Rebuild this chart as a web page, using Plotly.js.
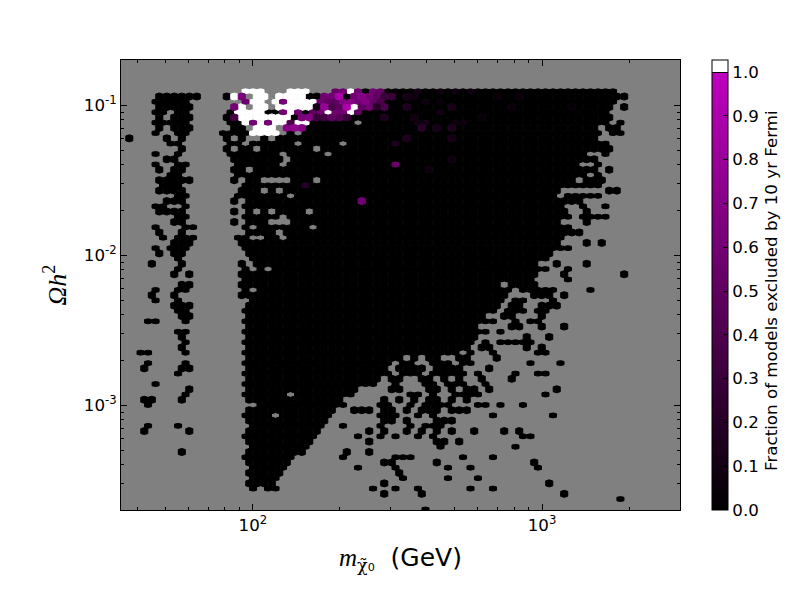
<!DOCTYPE html>
<html>
<head>
<meta charset="utf-8">
<script src="https://cdn.plot.ly/plotly-3.0.1.min.js"></script>
<style>body{margin:0;background:#fff}</style>
</head>
<body>
<div id="chart" style="width:800px;height:600px"></div>
<script>
// Fraction of models excluded per (mass, relic density) hexagonal bin.
// One string per bin row, top row first. Tokens are bin columns:
// "a-b" or "c" = bins at 0.0, "c=v" = bin with fraction v, "!c" = empty bin
var hexRows = [
"15=1 16=1 17=1 21=1 22=1 23=1 27-64 27=.55 28=.6 29=1 30=.6 32=.6 33=.5 38=.1 41=.08 43=.08 45=.08",
"4-9 13 14=1 15=.65 17=1 18=1 20=1 21=1 22=1 23=1 24 25-66 26=.6 27=.6 28=.9 30=.6 31=.7 32=.6 33=.5 34=.3 35=.3 37=.12 38=.08 49=.05 52=.05",
"3-7 15=.55 16=1 17=1 19=1 20=.6 21=1 22=1 23=1 24=1 25-64 25=.6 26=.5 27=.5 28=.7 29=.7 30=.6 31=.7 32=.5 33=.4 39=.08 41=.05",
"4-8 14=.6 15=1 17=1 18=1 20=1 21=1 22=1 23=1 24=1 25-64 25=.1 26=.8 27=.4 28=.5 29=.9 30=1 31=.5 32=.6 33=.2 34=.4 37=.15 43=.12 51=.05 59=.04 66",
"3 4 6 7 13 14=1 15=1 16=1 17=1 18 19 20=.6 21=1 22=.6 23 24=.5 25=.6 26=1 27-63 27=.6 28=.6 29=1 30=.5 41=.1",
"4 6 7 8 13 14=.35 15=1 16=1 17=1 18=1 19=1 20=1 21=1 22 23=.65 24=.7 25=.3 26-64 26=.35 27=.5 28=.45 29=.3 34=.15 38=.08 47=.05",
"3-7 13 14 15=1 16=.6 17=1 18=.6 19=1 20=1 21=.4 22=1 23=1 24-63 !30 38=.1 39=.1 43=.08 44=.08 65",
"4 6 7 8 14 15 17=1 18=1 19=1 21=.7 22=.75 23=.7 24-62 39=.2 41=.12 43=.15 64 65",
"3 6 7 12-15 16=1 17=1 18=1 19=1 21 23-62 64 65",
"0 5 7 13 15 18 20-62 37=.15 43=.12",
"5 6 13 14 16-21 23-63 !28 35=.15",
"7 13 15 16 18-64 !25",
"3 6 13-60 63 !20 !26",
"5 6 14-62 !21 43=.08",
"3 6 7 14-59 62 !20 35=.55",
"4 6 7 14-62 64 !16 40=.08",
"5 6 14-60 62",
"4-8 14 16 17 22-24 26-59 61 62 63",
"4-6 15-62 23=.2",
"4-7 15-17 19 21-57 64 65",
"6 7 14-56 58-62 !21",
"5 6 7 14 16-60 31=.6",
"3 4 7 15-57 60 63",
"4-7 14 16 18 20-23 25-58 61",
"6 7 15-58 !20 60-63",
"6 7 14 16-18 22-57 61",
"3 7 8 15 17-58 !24",
"4 7 16-19 21-60",
"4 6 7 8 14 15 18-57 !20",
"6 7 8 15-57 61 63",
"3 5 6 7 15-58",
"4 6 7 16-56",
"6 16-55",
"3 7 15 17-54 57 61",
"6 15 17 19-55 58",
"6 8 15-54 58 66",
"15-53 58",
"7 8 15-54 !50",
"3 6 7 15 17-50 52-56 61",
"3 6 15-50 54-56 58",
"3 6 16-49 51 52 56",
"6 7 8 16-49 51 52 55 56 57",
"6 7 15-48 50 51 52 54 55",
"7 8 16-47 50 51 55",
"2 3 7 15-48 51 53 54",
"16-46 51 52 55 58",
"6 7 15-47 49",
"7 16-46 53 56",
"7 15-45 47 49-53",
"7 16-45 47 48 53 55",
"1 2 7 15-43 45 48 54 55",
"16-36 38 40 41 44 45 49",
"2 7 15-34 36 37 40-42 44 45 53 57",
"2 7 8 16-34 36-39 41-44 48",
"6 15-34 36-38 40-44 46 51 54 55",
"16-33 35 36 39 40 42 44 47 51",
"3 15-32 35 39 40 42-44 47",
"8 16-30 35 36 40 41 43 45 46 48 57",
"7 15-29 !21 37 38 40 43-46 55",
"2 3 7 16-28 34 36 38 40 41 43 45",
"2 17-28 33 34 37 39-42 46 47 49 52",
"16-27 30-32 34 35 37 39-41 43-45",
"15-26 !19 33-35 38 40 48 56",
"16-26 34 35 37 41-43",
"2 6 16-25 28 33 37 39-41",
"2 8 16-25 32 34 37 39 41 43 46 50 52",
"15-24 30 33 35 38 40 52 53",
"16-24 32 41 42 44",
"16-23 41 51",
"7 16-23 29 32",
"15-21 28 35-37 44 48",
"16-21 34 35 41 54",
"16-20 30 35 42 45 54",
"16-20 36",
"16-19 36 42 46",
"16-19 34 56",
"16 18 19 32 35 38 45 48",
"34 39 58",
"65",
"",
"39"
];

var xTickVals = [100, 1000];
var xTickText = ['10<sup>2</sup>', '10<sup>3</sup>'];
var xMinorVals = [40, 50, 60, 70, 80, 90, 200, 300, 400, 500, 600, 700, 800, 900, 2000, 3000];
var yTickVals = [0.001, 0.01, 0.1];
var yTickText = ['10<sup>-3</sup>', '10<sup>-2</sup>', '10<sup>-1</sup>'];
var yMinorVals = [0.0002, 0.0003, 0.0004, 0.0005, 0.0006, 0.0007, 0.0008, 0.0009,
    0.002, 0.003, 0.004, 0.005, 0.006, 0.007, 0.008, 0.009,
    0.02, 0.03, 0.04, 0.05, 0.06, 0.07, 0.08, 0.09, 0.2];
var fracTicks = [0, 0.1, 0.2, 0.3, 0.4, 0.5, 0.6, 0.7, 0.8, 0.9, 1];

// hexbin lattice in log10 units
var logX0 = 1.5728, logXStep = 0.02593, logY0 = -0.9077, logYStep = 0.03485;
var halfW = 0.0122, halfTall = 0.0235, halfFlat = 0.0165;

function fracColor(v) {
    if (v >= 1) return 'rgb(255,255,255)';
    var c = Math.round(191 * v);
    return 'rgb(' + c + ',0,' + c + ')';
}

// turn one row string into {column: fraction}
function parseRow(str) {
    var bins = {};
    str.split(' ').forEach(function(tok) {
        if (!tok) return;
        if (tok[0] == '!') {
            delete bins[tok.slice(1)];
        } else if (tok.indexOf('=') > 0) {
            var p = tok.split('=');
            bins[p[0]] = parseFloat(p[1]);
        } else if (tok.indexOf('-') > 0) {
            var r = tok.split('-');
            for (var c = +r[0]; c <= +r[1]; c++) bins[c] = 0;
        } else {
            bins[tok] = 0;
        }
    });
    return bins;
}

// collect hexagon outlines per fraction, each hexagon closed and split by a null
var polys = {};
hexRows.forEach(function(str, k) {
    var bins = parseRow(str);
    var flat = k % 2 == 0;
    var h = flat ? halfFlat : halfTall;
    var ly = logY0 - k * logYStep;
    Object.keys(bins).forEach(function(c) {
        var v = bins[c];
        var lx = logX0 + c * logXStep + (flat ? logXStep / 2 : 0);
        if (!polys[v]) polys[v] = {x: [], y: []};
        var px = [lx + halfW, lx + halfW, lx, lx - halfW, lx - halfW, lx, lx + halfW];
        var py = [ly - 0.7 * h, ly + 0.7 * h, ly + h, ly + 0.7 * h, ly - 0.7 * h, ly - h, ly - 0.7 * h];
        for (var i = 0; i < 7; i++) {
            polys[v].x.push(Math.pow(10, px[i]));
            polys[v].y.push(Math.pow(10, py[i]));
        }
        polys[v].x.push(null);
        polys[v].y.push(null);
    });
});

var traces = [];
Object.keys(polys).forEach(function(v) {
    var col = fracColor(parseFloat(v));
    traces.push({
        x: polys[v].x, y: polys[v].y,
        type: 'scatter', mode: 'lines', fill: 'toself',
        fillcolor: col, line: {color: col, width: 1},
        hoverinfo: 'skip', showlegend: false
    });
});

// only here for the colorbar
traces.push({
    x: [100], y: [0.01], type: 'scatter', mode: 'markers',
    hoverinfo: 'skip', showlegend: false,
    marker: {
        size: 0, color: [0], cmin: 0, cmax: 1.0274, showscale: true,
        colorscale: [[0, 'rgb(0,0,0)'], [0.9711, 'rgb(191,0,191)'], [0.9712, 'rgb(0,0,0)'],
            [0.9733, 'rgb(0,0,0)'], [0.9734, 'rgb(255,255,255)'], [1, 'rgb(255,255,255)']],
        colorbar: {
            x: 1.0572, xanchor: 'left', xpad: 0, y: 0, yanchor: 'bottom', ypad: 0,
            len: 1, lenmode: 'fraction', thickness: 16, thicknessmode: 'pixels',
            outlinecolor: 'black', outlinewidth: 1, bordercolor: 'rgba(0,0,0,0)',
            tickvals: fracTicks, ticktext: fracTicks.map(function(t) { return t.toFixed(1); }),
            ticks: 'inside', ticklen: 5, tickcolor: 'black', tickwidth: 1,
            tickfont: {family: 'DejaVu Sans', size: 16.67, color: 'black'}
        }
    }
});

function axisStyle(tickvals, ticktext, minorvals, range) {
    return {
        type: 'log', range: range, tickmode: 'array', tickvals: tickvals, ticktext: ticktext,
        ticks: 'inside', ticklen: 6, tickwidth: 1, tickcolor: 'black',
        minor: {tickmode: 'array', tickvals: minorvals, ticks: 'inside', ticklen: 3, tickwidth: 1, tickcolor: 'black', showgrid: false},
        showline: true, linecolor: 'black', linewidth: 1, mirror: 'ticks',
        showgrid: false, zeroline: false,
        tickfont: {family: 'DejaVu Sans', size: 16.67, color: 'black'}
    };
}

var xaxis = axisStyle(xTickVals, xTickText, xMinorVals, [Math.log10(35), Math.log10(3000)]);
xaxis.title = {
    text: '<span style="font-family:\'Liberation Serif\';font-style:italic">m</span><sub><span style="font-family:\'DejaVu Serif\'">χ̃</span>₀</sub>  (GeV)',
    standoff: 14, font: {family: 'DejaVu Sans', size: 25, color: 'black'}
};
var yaxis = axisStyle(yTickVals, yTickText, yMinorVals, [Math.log10(0.0002), Math.log10(0.2)]);
yaxis.title = {
    text: '<i>Ωh</i><sup>2</sup>', standoff: 9,
    font: {family: 'Liberation Serif', size: 26, color: 'black'}
};

var layout = {
    width: 800, height: 600,
    margin: {l: 121, r: 120, t: 60, b: 90, pad: 0},
    paper_bgcolor: 'white', plot_bgcolor: 'rgb(128,128,128)',
    showlegend: false, xaxis: xaxis, yaxis: yaxis,
    // colorbar title sits centred on the 0-1 part of the bar
    annotations: [{
        text: 'Fraction of models excluded by 10 yr Fermi',
        xref: 'paper', yref: 'paper', x: 1.1628, y: 0.4867, showarrow: false, textangle: -90,
        xanchor: 'center', yanchor: 'middle',
        font: {family: 'DejaVu Sans', size: 16.7, color: 'black'}
    }]
};

Plotly.newPlot('chart', traces, layout, {displayModeBar: false, staticPlot: true});
</script>
</body>
</html>
